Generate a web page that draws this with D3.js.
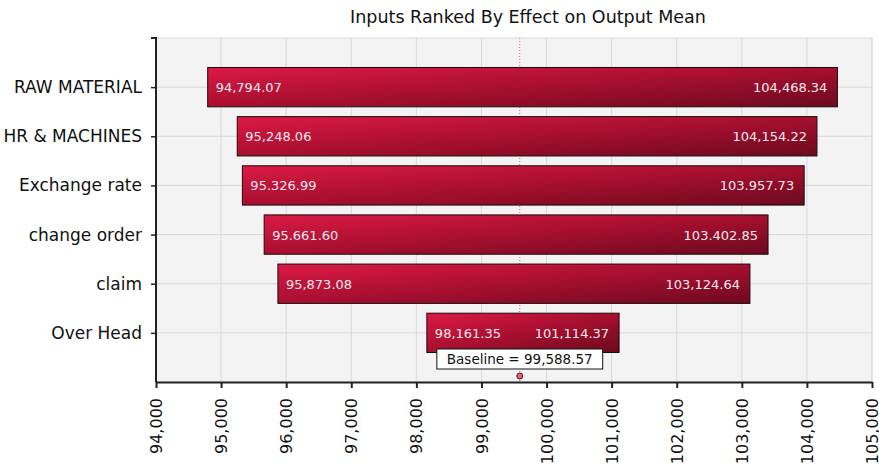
<!DOCTYPE html>
<html>
<head>
<meta charset="utf-8">
<script src="https://cdn.jsdelivr.net/npm/d3@7"></script>
<style>
  body { margin: 0; background: #fff; }
  text { font-family: "DejaVu Sans", Verdana, sans-serif; }
</style>
</head>
<body>
<div id="chart"></div>
<script>
// inputs, top to bottom
var categories = ["RAW MATERIAL", "HR & MACHINES", "Exchange rate", "change order", "claim", "Over Head"];
var lowValues = [94794.07, 95248.06, 95326.99, 95661.60, 95873.08, 98161.35];
var highValues = [104468.34, 104154.22, 103957.73, 103402.85, 103124.64, 101114.37];
// labels as printed on the bars
var lowLabels = ["94,794.07", "95,248.06", "95.326.99", "95.661.60", "95,873.08", "98,161.35"];
var highLabels = ["104,468.34", "104,154.22", "103.957.73", "103.402.85", "103,124.64", "101,114.37"];
var baseline = 99588.57;
var xTicks = [94000, 95000, 96000, 97000, 98000, 99000, 100000, 101000, 102000, 103000, 104000, 105000];

var W = 879, H = 466;
var margin = {top: 38, right: 7, bottom: 84, left: 156};

var svg = d3.select("#chart").append("svg")
  .attr("width", W)
  .attr("height", H);

var x = d3.scaleLinear()
  .domain([94000, 105000])
  .range([margin.left, W - margin.right]);

var y = d3.scalePoint()
  .domain(categories)
  .range([margin.top, H - margin.bottom])
  .padding(1);

var barH = y.step() * 0.8;

// bar gradient
var defs = svg.append("defs");
var grad = defs.append("linearGradient")
  .attr("id", "barGrad")
  .attr("x1", 0).attr("y1", 0).attr("x2", 1).attr("y2", 1);
grad.append("stop").attr("offset", "0%").attr("stop-color", "#dc1a44");
grad.append("stop").attr("offset", "50%").attr("stop-color", "#a80f30");
grad.append("stop").attr("offset", "100%").attr("stop-color", "#6c0a1e");

// plot background
svg.append("rect")
  .attr("x", margin.left)
  .attr("y", margin.top)
  .attr("width", x.range()[1] - margin.left)
  .attr("height", H - margin.bottom - margin.top)
  .attr("fill", "#f3f3f3")
  .attr("stroke", "#dcdcdc");

// grid lines
svg.append("g").selectAll("line.vgrid")
  .data(xTicks)
  .enter().append("line")
  .attr("class", "vgrid")
  .attr("x1", d => x(d)).attr("x2", d => x(d))
  .attr("y1", margin.top).attr("y2", H - margin.bottom)
  .attr("stroke", "#d9d9d9");

svg.append("g").selectAll("line.hgrid")
  .data(categories)
  .enter().append("line")
  .attr("class", "hgrid")
  .attr("x1", margin.left).attr("x2", x.range()[1])
  .attr("y1", d => y(d)).attr("y2", d => y(d))
  .attr("stroke", "#d9d9d9");

// baseline marker line
svg.append("line")
  .attr("x1", x(baseline)).attr("x2", x(baseline))
  .attr("y1", margin.top).attr("y2", H - margin.bottom)
  .attr("stroke", "#e8607c")
  .attr("stroke-dasharray", "1,2");

// bars
var bars = svg.append("g").selectAll("g.bar")
  .data(categories)
  .enter().append("g")
  .attr("class", "bar");

bars.append("rect")
  .attr("x", (d, i) => x(lowValues[i]))
  .attr("y", d => y(d) - barH / 2)
  .attr("width", (d, i) => x(highValues[i]) - x(lowValues[i]))
  .attr("height", barH)
  .attr("fill", "url(#barGrad)")
  .attr("stroke", "#1a0a0a")
  .attr("stroke-width", 1);

bars.append("text")
  .attr("x", (d, i) => x(lowValues[i]) + 8)
  .attr("y", d => y(d) + 5)
  .attr("fill", "#fbe9ee")
  .attr("font-size", 13)
  .text((d, i) => lowLabels[i]);

bars.append("text")
  .attr("x", (d, i) => x(highValues[i]) - 10)
  .attr("y", d => y(d) + 5)
  .attr("text-anchor", "end")
  .attr("fill", "#fbe9ee")
  .attr("font-size", 13)
  .text((d, i) => highLabels[i]);

// axes
var xAxis = d3.axisBottom(x)
  .tickValues(xTicks)
  .tickFormat(d3.format(","))
  .tickSize(6)
  .tickSizeOuter(0);

var gx = svg.append("g")
  .attr("transform", "translate(0," + (H - margin.bottom) + ")")
  .call(xAxis);
gx.select(".domain").attr("stroke", "#222").attr("stroke-width", 2);
gx.selectAll(".tick line").attr("stroke", "#222").attr("stroke-width", 2);
gx.selectAll(".tick text")
  .attr("font-family", "DejaVu Sans, Verdana, sans-serif")
  .attr("font-size", 16)
  .attr("fill", "#111")
  .attr("transform", "rotate(-90)")
  .attr("text-anchor", "end")
  .attr("x", -16)
  .attr("y", 0)
  .attr("dy", "0.35em");

var yAxis = d3.axisLeft(y)
  .tickSize(5)
  .tickSizeOuter(5)
  .tickPadding(9);

var gy = svg.append("g")
  .attr("transform", "translate(" + margin.left + ",0)")
  .call(yAxis);
gy.select(".domain").attr("stroke", "#222").attr("stroke-width", 2)
  .attr("d", "M-5," + margin.top + "H0V" + (H - margin.bottom));
gy.selectAll(".tick line").attr("stroke", "#222").attr("stroke-width", 1.5);
gy.selectAll(".tick text")
  .attr("font-family", "DejaVu Sans, Verdana, sans-serif")
  .attr("font-size", 17)
  .attr("fill", "#111");

// baseline label
var bx = x(baseline);
var by = H - margin.bottom - 23;
var blabel = svg.append("g");
var bt = blabel.append("text")
  .attr("x", bx)
  .attr("y", by + 5)
  .attr("text-anchor", "middle")
  .attr("font-size", 13.5)
  .attr("fill", "#111")
  .text("Baseline = " + d3.format(",.2f")(baseline));
var bb = bt.node().getBBox();
blabel.insert("rect", "text")
  .attr("x", bb.x - 10)
  .attr("y", by - 10)
  .attr("width", bb.width + 20)
  .attr("height", 20)
  .attr("fill", "#fff")
  .attr("stroke", "#111");

svg.append("circle")
  .attr("cx", bx)
  .attr("cy", H - margin.bottom - 6)
  .attr("r", 3)
  .attr("fill", "#e8607c")
  .attr("stroke", "#5a1020");

// title
svg.append("text")
  .attr("x", 528)
  .attr("y", 23)
  .attr("text-anchor", "middle")
  .attr("font-size", 17.5)
  .attr("fill", "#111")
  .text("Inputs Ranked By Effect on Output Mean");
</script>
</body>
</html>
